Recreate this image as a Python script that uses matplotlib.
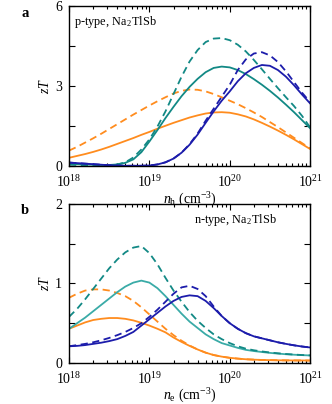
import numpy as np
import matplotlib
matplotlib.use('Agg')
import matplotlib.pyplot as plt
from matplotlib.ticker import FixedLocator, NullFormatter, LogLocator

plt.rcParams['font.family'] = ['Liberation Serif', 'DejaVu Serif']
plt.rcParams['mathtext.fontset'] = 'custom'
plt.rcParams['mathtext.rm'] = 'Liberation Serif'
plt.rcParams['mathtext.it'] = 'Liberation Serif:italic'

# carrier concentration grid, log10(n / cm^-3)
log_n = np.round(np.arange(18.0, 21.01, 0.1), 1)

# ---- p-type zT
p_orange = [0.31, 0.38, 0.45, 0.53, 0.62, 0.72, 0.83, 0.94, 1.05, 1.17, 1.28, 1.40, 1.51, 1.62,
            1.72, 1.82, 1.90, 1.97, 2.01, 2.02, 2.00, 1.94, 1.86, 1.75, 1.62, 1.48, 1.33, 1.17,
            1.00, 0.82, 0.64]
p_orange_d = [0.58, 0.72, 0.88, 1.04, 1.21, 1.39, 1.57, 1.75, 1.93, 2.10, 2.27, 2.43, 2.58, 2.72,
              2.82, 2.87, 2.86, 2.80, 2.70, 2.58, 2.45, 2.32, 2.17, 2.01, 1.84, 1.65, 1.46, 1.26,
              1.06, 0.86, 0.66]
p_teal = [0.08, 0.07, 0.06, 0.05, 0.04, 0.04, 0.06, 0.12, 0.25, 0.52, 0.92, 1.35, 1.80, 2.22,
          2.62, 2.97, 3.27, 3.52, 3.68, 3.73, 3.70, 3.60, 3.45, 3.26, 3.05, 2.82, 2.57, 2.30,
          2.02, 1.72, 1.42]
p_teal_d = [0.05, 0.04, 0.03, 0.02, 0.02, 0.03, 0.06, 0.14, 0.32, 0.62, 1.00, 1.48, 2.05, 2.70,
            3.35, 3.92, 4.35, 4.65, 4.78, 4.80, 4.72, 4.55, 4.30, 3.98, 3.63, 3.27, 2.92, 2.58,
            2.25, 1.88, 1.45]
p_blue = [0.13, 0.11, 0.09, 0.07, 0.05, 0.03, 0.02, 0.01, 0.01, 0.01, 0.02, 0.06, 0.14, 0.28,
          0.50, 0.80, 1.18, 1.62, 2.05, 2.45, 2.80, 3.18, 3.48, 3.68, 3.79, 3.76, 3.60, 3.35,
          3.03, 2.68, 2.35]
p_blue_d = [0.13, 0.11, 0.09, 0.07, 0.05, 0.03, 0.02, 0.01, 0.01, 0.01, 0.02, 0.06, 0.14, 0.28,
            0.50, 0.82, 1.22, 1.70, 2.15, 2.60, 3.05, 3.60, 4.00, 4.22, 4.27, 4.15, 3.90, 3.55,
            3.15, 2.75, 2.40]

# ---- n-type zT
n_orange = [0.43, 0.47, 0.51, 0.54, 0.555, 0.565, 0.565, 0.555, 0.535, 0.505, 0.47, 0.43, 0.385,
            0.32, 0.265, 0.215, 0.17, 0.13, 0.10, 0.08, 0.065, 0.055, 0.047, 0.042, 0.038, 0.036,
            0.034, 0.033, 0.032, 0.032, 0.031]
n_orange_d = [0.82, 0.87, 0.91, 0.925, 0.925, 0.91, 0.88, 0.84, 0.78, 0.70, 0.61, 0.52, 0.43,
              0.35, 0.28, 0.22, 0.17, 0.13, 0.10, 0.08, 0.065, 0.055, 0.047, 0.042, 0.038, 0.036,
              0.034, 0.033, 0.032, 0.032, 0.031]
n_teal = [0.43, 0.50, 0.57, 0.65, 0.73, 0.81, 0.89, 0.96, 1.01, 1.035, 1.01, 0.94, 0.84, 0.73,
          0.62, 0.52, 0.44, 0.36, 0.30, 0.25, 0.22, 0.19, 0.165, 0.15, 0.138, 0.127, 0.118, 0.11,
          0.104, 0.099, 0.095]
n_teal_d = [0.58, 0.68, 0.80, 0.93, 1.06, 1.19, 1.30, 1.39, 1.45, 1.47, 1.38, 1.24, 1.07, 0.91,
            0.77, 0.64, 0.53, 0.44, 0.36, 0.30, 0.25, 0.21, 0.18, 0.16, 0.145, 0.132, 0.122,
            0.113, 0.106, 0.10, 0.095]
n_blue = [0.21, 0.215, 0.225, 0.24, 0.255, 0.275, 0.30, 0.34, 0.39, 0.47, 0.55, 0.63, 0.71, 0.78,
          0.83, 0.85, 0.84, 0.78, 0.69, 0.59, 0.50, 0.43, 0.375, 0.335, 0.31, 0.285, 0.26, 0.24,
          0.222, 0.207, 0.195]
n_blue_d = [0.21, 0.225, 0.24, 0.26, 0.285, 0.315, 0.35, 0.39, 0.44, 0.50, 0.58, 0.67, 0.77, 0.87,
            0.95, 0.97, 0.93, 0.84, 0.71, 0.59, 0.50, 0.43, 0.375, 0.335, 0.31, 0.285, 0.26, 0.24,
            0.222, 0.207, 0.195]

orange = '#ff8c1e'
teal = '#128985'
teal_light = '#3aaba7'
blue = '#1c1cab'

n = 10.0 ** log_n

fig = plt.figure(figsize=(3.32, 4.04), dpi=100)
ax_a = fig.add_axes([0.208, 0.589, 0.726, 0.396])
ax_b = fig.add_axes([0.208, 0.1015, 0.726, 0.394])

lw = 1.3
dash = (0, (4, 2.5))

ax_a.plot(n, p_orange, color=orange, lw=lw)
ax_a.plot(n, p_orange_d, color=orange, lw=lw, ls=dash)
ax_a.plot(n, p_teal, color=teal, lw=lw)
ax_a.plot(n, p_teal_d, color=teal, lw=lw, ls=dash)
ax_a.plot(n, p_blue, color=blue, lw=lw)
ax_a.plot(n, p_blue_d, color=blue, lw=lw, ls=dash)

ax_b.plot(n, n_orange, color=orange, lw=lw)
ax_b.plot(n, n_orange_d, color=orange, lw=lw, ls=dash)
ax_b.plot(n, n_teal, color=teal_light, lw=lw)
ax_b.plot(n, n_teal_d, color=teal, lw=lw, ls=dash)
ax_b.plot(n, n_blue, color=blue, lw=lw)
ax_b.plot(n, n_blue_d, color=blue, lw=lw, ls=dash)


def style(ax, ymax, ystep, labels, xlabel):
    ax.set_xscale('log')
    ax.set_xlim(1e18, 1e21)
    ax.set_ylim(0, ymax)
    yt = np.arange(0, ymax + 1e-9, ystep)
    ax.yaxis.set_major_locator(FixedLocator(yt))
    ax.set_yticklabels([labels.get(round(v, 2), '') for v in yt])
    ax.xaxis.set_major_locator(LogLocator(base=10, numticks=10))
    ax.xaxis.set_minor_locator(LogLocator(base=10, subs=np.arange(2, 10), numticks=20))
    ax.xaxis.set_minor_formatter(NullFormatter())
    ax.tick_params(which='both', direction='in', top=True, right=True, labelsize=10)
    ax.tick_params(which='major', length=4, width=0.8)
    ax.tick_params(which='minor', length=2.5, width=0.8)
    ax.tick_params(axis='x', pad=5.5)
    ax.tick_params(axis='y', pad=5)
    for s in ax.spines.values():
        s.set_linewidth(1.0)
    ax.set_xlabel(xlabel, fontsize=10, labelpad=0.5)
    ax.set_ylabel('$zT$', fontsize=10, labelpad=2)


style(ax_a, 6, 1.5, {0: '0', 3: '3', 6: '6'}, r'$n_\mathrm{h}$ (cm$^{-3}$)')
style(ax_b, 2, 0.5, {0: '0', 1: '1', 2: '2'}, r'$n_\mathrm{e}$ (cm$^{-3}$)')

ax_a.text(0.02, 0.9, r'p-type, Na$_{\,2}$TlSb', transform=ax_a.transAxes, fontsize=8.8,
          ha='left', va='center')
ax_b.text(0.52, 0.9, r'n-type, Na$_{\,2}$TlSb', transform=ax_b.transAxes, fontsize=8.8,
          ha='left', va='center')

fig.text(0.075, 0.967, 'a', fontsize=10.5, fontweight='bold', ha='center', va='center')
fig.text(0.075, 0.478, 'b', fontsize=10.5, fontweight='bold', ha='center', va='center')

fig.savefig('out.png', dpi=100)
